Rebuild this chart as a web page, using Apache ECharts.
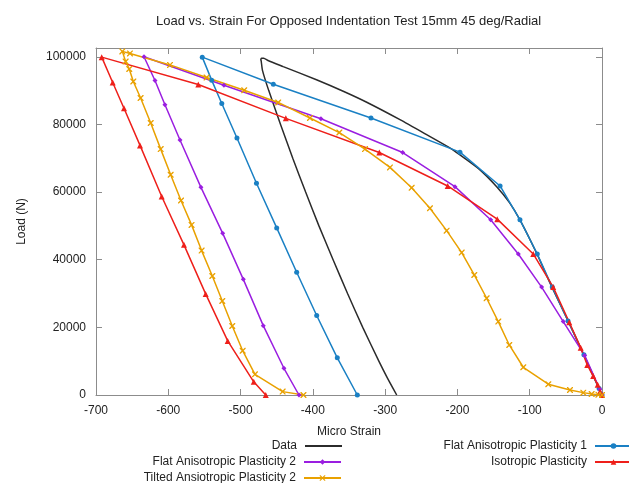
<!DOCTYPE html>
<html>
<head>
<meta charset="utf-8">
<script src="https://cdn.jsdelivr.net/npm/echarts@6/dist/echarts.min.js"></script>
<style>
html,body{margin:0;padding:0;background:#fff;}
#chart{width:629px;height:483px;}
</style>
</head>
<body>
<div id="chart"></div>
<script>
// ---- Data (strain in micro strain, load in N) ----
var xTicks = [-700, -600, -500, -400, -300, -200, -100, 0];
var yTicks = [0, 20000, 40000, 60000, 80000, 100000];

var dataStrain = [0, -15, -30.5, -50, -69.6, -90.4, -113.5, -128, -145.7, -170, -196.5, -210, -242, -279.5, -325.5, -358, -395, -441, -462, -468, -471, -472,
  -471.5, -469.7, -461, -444.7, -427.8, -410, -391.6, -372, -352, -331, -308.7, -296.8, -284];
var dataLoad = [0, 7000, 14300, 23300, 32000, 41900, 51800, 56900, 61600, 66800, 71000, 73000, 76900, 81400, 86550, 89800, 93200, 97100, 98900, 99600, 99600, 99100,
  98800, 96000, 90000, 80000, 70000, 60000, 50000, 40000, 30000, 20000, 10000, 5000, 0];

var flat1Strain = [0, -4, -25, -47, -68.8, -89.5, -113.5, -141, -196.5, -319.6, -454.7, -553,
  -540, -526, -505, -478, -450, -422.4, -394.7, -366.2, -338.5];
var flat1Load = [0, 1900, 11900, 21900, 31900, 41700, 51800, 61800, 71800, 81900, 91900, 99900,
  93100, 86200, 76000, 62600, 49400, 36300, 23500, 11000, 0];

var flat2Strain = [0, -3, -24, -53.6, -83.5, -115.8, -154, -203.4, -275.7, -388.8, -523, -633.6,
  -618.4, -604.6, -583.8, -554.8, -524.7, -496.2, -468.6, -440, -419.2];
var flat2Load = [0, 1700, 11700, 21700, 31900, 41700, 51800, 61600, 71700, 81700, 91600, 100000,
  93000, 85800, 75400, 61400, 47800, 34200, 20500, 7900, 0];

var isoStrain = [0, -2.8, -6, -12.2, -20.4, -29.5, -45.3, -67.5, -95.1, -144.9, -213.5, -308.1, -437.4, -558.5, -692.1,
  -676.9, -661.3, -639.1, -609.1, -578.3, -548.3, -517.8, -481.8, -465.2];
var isoLoad = [0, 1000, 3000, 5600, 8900, 14000, 21500, 31900, 41700, 52000, 61800, 71700, 81800, 91800, 99900,
  92400, 84800, 73800, 58700, 44400, 29900, 16000, 3900, 0];

var tiltStrain = [0, -5, -14.3, -25.9, -44.3, -74.3, -108.9, -128.3, -143.5, -159.6, -176.7, -194.1, -214.9, -238, -263.3, -293.3, -327.9, -363.4, -404, -448, -495, -547, -597.6, -653, -663.6,
  -659, -654, -648.4, -638.3, -624.3, -610.5, -596.7, -582.4, -567.8, -553.9, -539.1, -525.3, -511.5, -497.1, -480.1, -441.8, -413];
var tiltLoad = [0, 100, 300, 700, 1500, 3200, 8200, 14800, 21700, 28600, 35500, 42100, 48600, 55200, 61300, 67300, 72700, 77600, 81900, 86500, 90100, 93900, 97600, 101000, 101600,
  98600, 96400, 92700, 87800, 80400, 72700, 65100, 57500, 50300, 42700, 35200, 27800, 20400, 13100, 6100, 1000, 0];

var seriesNames = ['Data', 'Flat Anisotropic Plasticity 1', 'Flat Anisotropic Plasticity 2', 'Isotropic Plasticity', 'Tilted Ansiotropic Plasticity 2'];

function zip(a, b) { return a.map(function (v, i) { return [v, b[i]]; }); }

var FONT = '"Liberation Sans", Arial, sans-serif';
var AXIS_COLOR = '#8c8c8c';
var TEXT_COLOR = '#222';
var starPath = 'path://M0,0 L1.6,0 L10,8.4 L10,10 L8.4,10 L0,1.6 Z M10,0 L10,1.6 L1.6,10 L0,10 L0,8.4 L8.4,0 Z';

var chart = echarts.init(document.getElementById('chart'), null, {renderer: 'canvas'});

function baseX(pos, showLabel) {
  return {
    type: 'value', position: pos, min: -700, max: 0, interval: 100,
    axisLine: {show: true, onZero: false, lineStyle: {color: AXIS_COLOR, width: 1}},
    axisTick: {show: true, inside: true, length: 6, lineStyle: {color: AXIS_COLOR}},
    axisLabel: {show: showLabel, color: TEXT_COLOR, fontFamily: FONT, fontSize: 12, margin: 10},
    splitLine: {show: false}
  };
}
function baseY(pos, showLabel) {
  return {
    type: 'value', position: pos, min: 0, max: 102600, interval: 20000,
    axisLine: {show: true, onZero: false, lineStyle: {color: AXIS_COLOR, width: 1}},
    axisTick: {show: true, inside: true, length: 6, lineStyle: {color: AXIS_COLOR}},
    axisLabel: {show: showLabel, color: TEXT_COLOR, fontFamily: FONT, fontSize: 12, margin: 10,
      formatter: function (v) { return (v % 20000 === 0) ? String(v) : ''; }},
    splitLine: {show: false}
  };
}

var xb = baseX('bottom', true);
xb.name = 'Micro Strain'; xb.nameLocation = 'middle'; xb.nameGap = 31;
xb.nameTextStyle = {color: TEXT_COLOR, fontFamily: FONT, fontSize: 12};
var xt = baseX('top', false);
var yl = baseY('left', true);
yl.name = 'Load (N)'; yl.nameLocation = 'middle'; yl.nameGap = 68; yl.nameRotate = 90;
yl.nameTextStyle = {color: TEXT_COLOR, fontFamily: FONT, fontSize: 12};
var yr = baseY('right', false);

function mkSeries(name, sx, sy, color, symbol, size, smooth) {
  return {
    name: name, type: 'line', xAxisIndex: 0, yAxisIndex: 0,
    data: zip(sx, sy),
    symbol: symbol, symbolSize: size, showSymbol: symbol !== 'none',
    smooth: smooth || false,
    lineStyle: {color: color, width: 1.5},
    itemStyle: {color: color},
    emphasis: {disabled: true},
    animation: false, clip: true
  };
}

function mkLegend(name, right, top, icon, ih) {
  var item = icon ? {name: name, icon: icon} : name;
  return {
    data: [item], right: right, top: top, orient: 'horizontal', align: 'right',
    itemWidth: 37, itemHeight: ih || 7, padding: 0, itemGap: 0, selectedMode: false,
    textStyle: {color: TEXT_COLOR, fontFamily: FONT, fontSize: 12, padding: [0, 3, 0, 0]}
  };
}

chart.setOption({
  animation: false,
  title: {
    text: 'Load vs. Strain For Opposed Indentation Test 15mm 45 deg/Radial',
    left: 151, top: 10,
    textStyle: {color: TEXT_COLOR, fontFamily: FONT, fontSize: 13, fontWeight: 'normal'}
  },
  grid: {left: 96, right: 27, top: 48, bottom: 88, containLabel: false},
  xAxis: [xb, xt],
  yAxis: [yl, yr],
  legend: [
    mkLegend(seriesNames[0], 287, 440, 'rect', 2),
    mkLegend(seriesNames[1], -4, 440),
    mkLegend(seriesNames[2], 287, 456),
    mkLegend(seriesNames[3], -4, 456),
    mkLegend(seriesNames[4], 287, 472)
  ],
  series: [
    mkSeries(seriesNames[0], dataStrain, dataLoad, '#2b2b2b', 'none', 0, 0.2),
    mkSeries(seriesNames[1], flat1Strain, flat1Load, '#1a80c4', 'circle', 5),
    mkSeries(seriesNames[2], flat2Strain, flat2Load, '#9a1ee0', 'diamond', 5),
    mkSeries(seriesNames[3], isoStrain, isoLoad, '#ee1f1a', 'triangle', 6),
    mkSeries(seriesNames[4], tiltStrain, tiltLoad, '#e9a100', starPath, 6)
  ]
});
</script>
</body>
</html>
